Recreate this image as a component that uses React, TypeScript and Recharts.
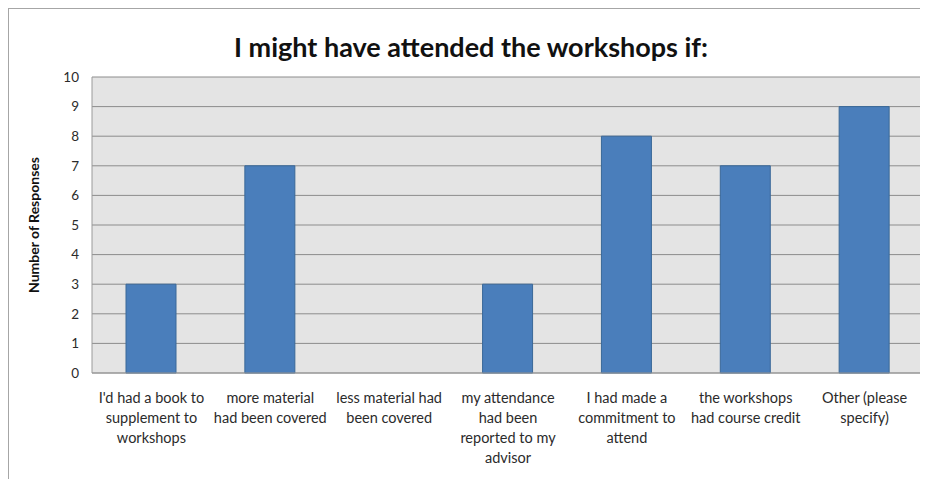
import { BarChart, Bar, XAxis, YAxis, CartesianGrid, Label } from "recharts"

const categories = [
  "I'd had a book to\nsupplement to\nworkshops",
  "more material\nhad been covered",
  "less material had\nbeen covered",
  "my attendance\nhad been\nreported to my\nadvisor",
  "I had made a\ncommitment to\nattend",
  "the workshops\nhad course credit",
  "Other (please\nspecify)",
]
const responses = [3, 7, 0, 3, 8, 7, 9]
const yTicks = [0, 1, 2, 3, 4, 5, 6, 7, 8, 9, 10]

const data = categories.map((name, i) => ({ name, value: responses[i] }))

const FONT = "Lato, 'Open Sans', sans-serif"

function CategoryTick(props: any) {
  const { x, y, payload } = props
  const lines = String(payload.value).split("\n")
  return (
    <text x={x} y={y} textAnchor="middle" fontFamily={FONT} fontSize={14.5} fill="#2b2b2b">
      {lines.map((line, i) => (
        <tspan key={i} x={x} dy={i === 0 ? 22 : 20}>
          {line}
        </tspan>
      ))}
    </text>
  )
}

export default function App() {
  return (
    <div
      style={{
        position: "relative",
        width: 920,
        height: 471,
        borderTop: "1px solid #a6a6a6",
        borderLeft: "1px solid #a6a6a6",
        boxSizing: "border-box",
        background: "#fff",
      }}
    >
      <div
        style={{
          position: "absolute",
          left: 0,
          top: 21,
          width: 924,
          textAlign: "center",
          fontFamily: FONT,
          fontWeight: 700,
          fontSize: 27,
          color: "#111",
        }}
      >
        I might have attended the workshops if:
      </div>
      <BarChart
        width={919}
        height={470}
        data={data}
        margin={{ top: 68, right: 4, left: 0, bottom: 0 }}
        barSize={50}
      >
        <CartesianGrid vertical={false} stroke="#8c8c8c" fill="#e4e4e4" />
        <XAxis
          dataKey="name"
          interval={0}
          height={106}
          tickLine={false}
          axisLine={{ stroke: "#9a9a9a" }}
          tick={<CategoryTick />}
        />
        <YAxis
          width={83}
          domain={[0, 10]}
          ticks={yTicks}
          interval={0}
          tickLine={false}
          tickSize={0}
          tickMargin={13}
          axisLine={{ stroke: "#9a9a9a" }}
          tick={{ fontFamily: FONT, fontSize: 13.5, fill: "#2b2b2b" }}
        >
          <Label
            value="Number of Responses"
            angle={-90}
            position="insideLeft"
            offset={25}
            style={{ fontFamily: FONT, fontWeight: 700, fontSize: 14, fill: "#111", textAnchor: "middle" }}
          />
        </YAxis>
        <Bar dataKey="value" fill="#4a7ebb" stroke="#3a6898" strokeWidth={1} isAnimationActive={false} />
      </BarChart>
    </div>
  )
}
